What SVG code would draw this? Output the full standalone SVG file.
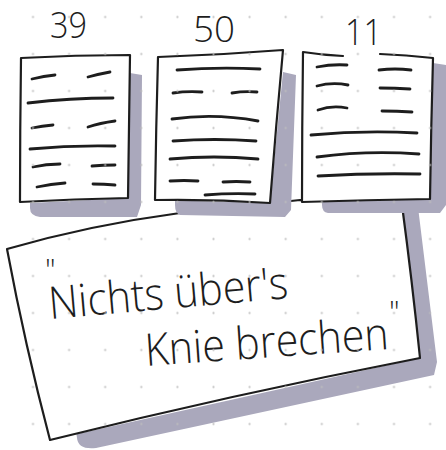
<svg xmlns="http://www.w3.org/2000/svg" width="446" height="450" viewBox="0 0 446 450">
  <style>
    .shadow { fill: #aaa8bc; }
    .paper { fill: #ffffff; }
    .ink { fill: none; stroke: #1d1d1d; stroke-width: 2.2; stroke-linecap: round; stroke-linejoin: round; }
    .txt { fill: none; stroke: #1d1d1d; stroke-width: 2.8; stroke-linecap: round; }
    .hand { font-family: "Open Sans", "Liberation Sans", sans-serif; font-weight: 300; fill: #1d1d1d; }
  </style>
  <defs>
    <pattern id="dots" patternUnits="userSpaceOnUse" x="14.95" y="-1.5" width="36.1" height="37">
      <circle cx="18.05" cy="18.5" r="1.1" fill="#bdbdbd"/>
    </pattern>
  </defs>

  <rect width="446" height="450" fill="#ffffff"/>

  <g id="quote-box">
    <path class="shadow" d="M403,208 L418,207 L437,362 L434,375 L96,448 Q78,450 77,438 L76,431 L420,357 Z"/>
    <path class="paper" d="M7,249 Q90,225 180,213 L300,200 L402,205 L420,358 L50,440 Q25,345 7,249 Z"/>
    <path class="ink" d="M7,249 Q90,225 180,213 L300,200 L402,205 Q412,280 420,358 Q230,395 50,440 Q25,345 7,249"/>
    <text class="hand" x="45" y="280" font-size="30">"</text>
    <text class="hand" x="50" y="319" font-size="45" textLength="240" lengthAdjust="spacingAndGlyphs" transform="rotate(-5 50 319)">Nichts über's</text>
    <text class="hand" x="146" y="366" font-size="45" textLength="244" lengthAdjust="spacingAndGlyphs" transform="rotate(-4 146 366)">Knie brechen</text>
    <text class="hand" x="389" y="322" font-size="30">"</text>
  </g>

  <g id="page-39">
    <path class="shadow" d="M130,73 L142,75 L141,205 L137,217 L40,217 Q30,216 30,208 L30,203 L128,198 Z"/>
    <path class="paper" d="M21,58 L130,55 L128,198 L20,202 Z"/>
    <path class="ink" d="M21,58 Q75,55 130,55 Q129,125 128,198 Q75,199 20,202 Q20,130 21,58 Z"/>
    <g class="txt">
      <path d="M32,79 Q44,76 55,75"/><path d="M88,77 Q99,74 110,72"/>
      <path d="M28,103 Q70,98 113,98"/>
      <path d="M32,128 Q42,126 53,125"/><path d="M88,127 Q100,123 115,121"/>
      <path d="M30,149 Q72,145 115,146"/>
      <path d="M33,167 Q46,164 60,164"/><path d="M92,166 Q103,165 115,165"/>
      <path d="M37,187 Q51,184 65,183"/><path d="M93,184 Q104,184 115,185"/>
    </g>
    <text class="hand" x="50" y="38" font-size="36" textLength="37" lengthAdjust="spacingAndGlyphs">39</text>
  </g>

  <g id="page-50">
    <path class="shadow" d="M283,72 L296,75 L291,210 L285,217 L180,215 Q175,213 175,205 L175,200 L270,203 Z"/>
    <path class="paper" d="M158,57 L283,50 L270,203 L155,200 Z"/>
    <path class="ink" d="M158,57 Q220,55 283,50 Q276,125 270,203 Q212,199 155,200 Q156,128 158,57 Z"/>
    <g class="txt">
      <path d="M177,70 Q218,67 260,69"/>
      <path d="M173,93 Q187,91 202,92"/><path d="M232,93 Q244,91 257,92"/>
      <path d="M172,119 Q215,113 258,121"/>
      <path d="M173,141 Q215,138 256,141"/>
      <path d="M170,159 Q214,155 258,159"/>
      <path d="M170,181 Q184,180 198,181"/><path d="M223,182 Q236,181 250,182"/>
      <path d="M205,195 Q230,193 255,194"/>
    </g>
    <text class="hand" x="193" y="42" font-size="36" textLength="42" lengthAdjust="spacingAndGlyphs">50</text>
  </g>

  <g id="page-11">
    <path class="shadow" d="M433,63 L446,65 L446,205 L440,213 L328,213 Q322,212 322,205 L322,200 L430,200 Z"/>
    <path class="paper" d="M303,52 L433,58 L430,199 L302,202 Z"/>
    <path class="ink" d="M343,56 Q322,55 303,52 Q302,128 302,202 Q366,200 430,199 Q431,128 433,58 Q406,55 380,54"/>
    <g class="txt">
      <path d="M317,67 Q332,64 347,65"/><path d="M379,70 Q395,68 411,70"/>
      <path d="M317,86 Q332,82 348,85"/><path d="M380,88 Q395,88 410,89"/>
      <path d="M318,110 Q332,105 347,108"/><path d="M382,111 Q397,111 412,112"/>
      <path d="M311,135 Q364,130 417,133"/>
      <path d="M317,157 Q368,150 419,154"/>
      <path d="M318,176 Q369,173 420,174"/>
    </g>
    <text class="hand" x="345" y="45" font-size="36" textLength="37" lengthAdjust="spacingAndGlyphs">11</text>
  </g>

  <rect width="446" height="450" fill="url(#dots)"/>
</svg>
